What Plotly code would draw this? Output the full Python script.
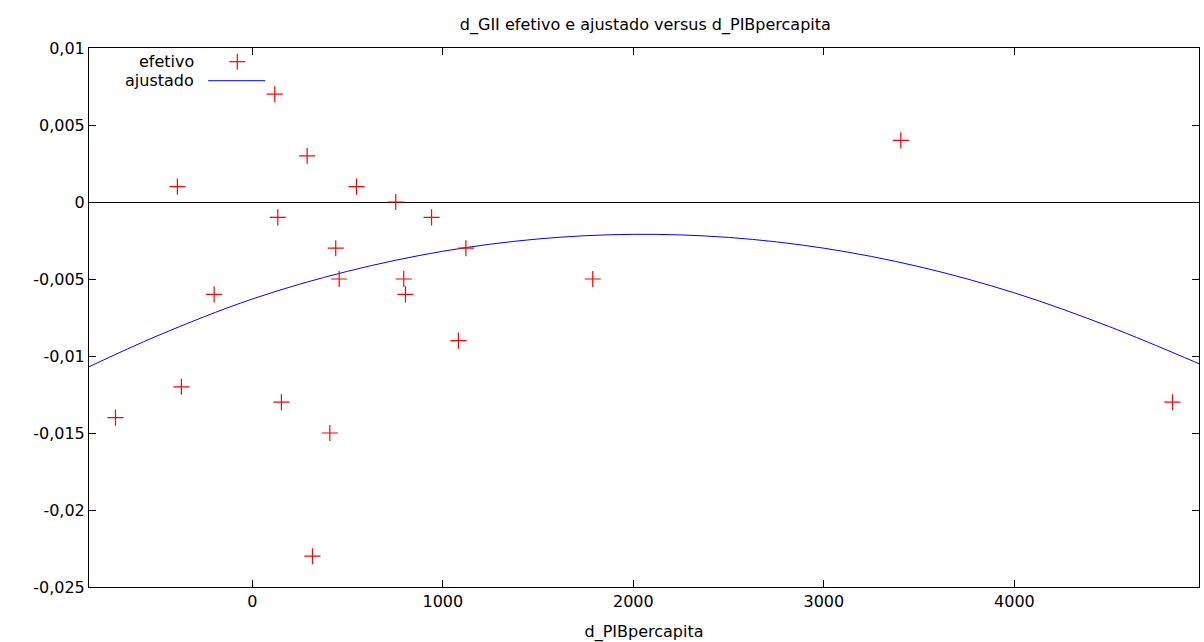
import plotly.graph_objects as go

# observed data (efetivo)
pib_x = [118, 288, -393, 547, 753, 134, 941, 438, 1121, 456, 795, 1787, -200, 804,
         1082, -372, -718, 153, 407, 316, 3404, 4830]
gii_y = [0.007, 0.003, 0.001, 0.001, 0.0, -0.001, -0.001, -0.003, -0.003, -0.005, -0.005,
         -0.005, -0.006, -0.006, -0.009, -0.012, -0.014, -0.013, -0.015, -0.023, 0.004, -0.013]

# fitted curve (ajustado)
fit_x = [-857, -500, 0, 500, 1000, 1500, 2000, 2500, 3000, 3500, 4000, 4500, 4969]
fit_y = [-0.0107, -0.0087, -0.0063, -0.0045, -0.0032, -0.0024, -0.0021, -0.0023,
         -0.0030, -0.0042, -0.0059, -0.0081, -0.0105]

x_ticks = [0, 1000, 2000, 3000, 4000]
x_ticklabels = ["0", "1000", "2000", "3000", "4000"]
y_ticks = [0.01, 0.005, 0, -0.005, -0.01, -0.015, -0.02, -0.025]
y_ticklabels = ["0,01", "0,005", "0", "-0,005", "-0,01", "-0,015", "-0,02", "-0,025"]

FONT = "DejaVu Sans"
FS = 16

fig = go.Figure()
fig.add_trace(go.Scatter(x=fit_x, y=fit_y, mode="lines", name="ajustado",
                         line=dict(color="#0000ff", width=1, shape="spline"),
                         showlegend=False))
fig.add_trace(go.Scatter(x=pib_x, y=gii_y, mode="markers", name="efetivo",
                         marker=dict(symbol="cross-thin", size=11.5,
                                     line=dict(color="#ff0000", width=1.2)),
                         showlegend=False))

axis_common = dict(showline=True, linecolor="black", linewidth=1, mirror="ticks",
                   ticks="inside", ticklen=7, tickcolor="black", showgrid=False,
                   tickfont=dict(family=FONT, size=FS, color="black"))

fig.update_xaxes(range=[-857, 4969], tickvals=x_ticks, ticktext=x_ticklabels,
                 zeroline=False,
                 title=dict(text="d_PIBpercapita", font=dict(family=FONT, size=FS, color="black"),
                            standoff=16),
                 **axis_common)
fig.update_yaxes(range=[-0.025, 0.01], tickvals=y_ticks, ticktext=y_ticklabels,
                 zeroline=True, zerolinecolor="black", zerolinewidth=1,
                 **axis_common)

# legend (text left, sample right, as in the original)
mx, my = 0.1336, 0.9746
ly = 0.9393
fig.add_annotation(x=0.0968, y=my, xref="paper", yref="paper", text="efetivo",
                   showarrow=False, xanchor="right", yanchor="middle",
                   font=dict(family=FONT, size=FS, color="black"))
fig.add_annotation(x=0.0968, y=ly, xref="paper", yref="paper", text="ajustado",
                   showarrow=False, xanchor="right", yanchor="middle",
                   font=dict(family=FONT, size=FS, color="black"))
fig.add_shape(type="line", xref="paper", yref="paper", xsizemode="pixel", ysizemode="pixel",
              xanchor=mx, yanchor=my, x0=-8, x1=8, y0=0, y1=0,
              line=dict(color="#ff0000", width=1.2))
fig.add_shape(type="line", xref="paper", yref="paper", xsizemode="pixel", ysizemode="pixel",
              xanchor=mx, yanchor=my, x0=0, x1=0, y0=-8, y1=8,
              line=dict(color="#ff0000", width=1.2))
fig.add_shape(type="line", xref="paper", yref="paper", x0=0.1074, x1=0.1588, y0=ly, y1=ly,
              line=dict(color="#0000ff", width=1))

fig.update_layout(
    width=1204, height=642,
    margin=dict(l=89, r=5, t=48, b=55),
    paper_bgcolor="white", plot_bgcolor="white",
    title=dict(text="d_GII efetivo e ajustado versus d_PIBpercapita",
               x=0.536, xanchor="center", y=1 - 24 / 642, yanchor="middle",
               font=dict(family=FONT, size=FS, color="black")),
    showlegend=False,
)

fig.write_html("out.html")
